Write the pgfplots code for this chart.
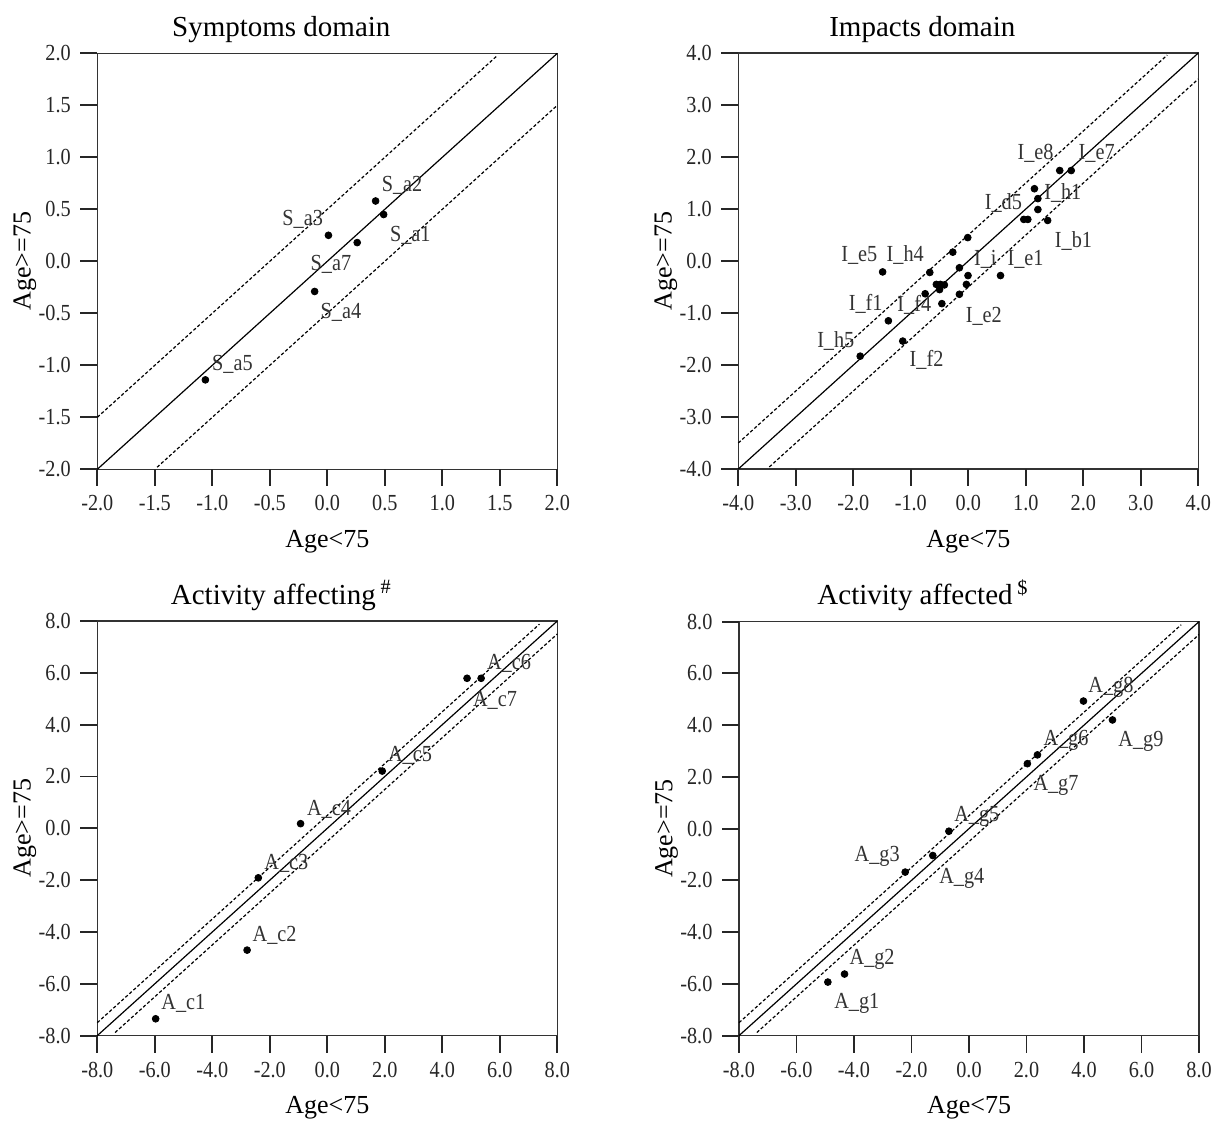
\documentclass[border=0pt]{standalone}
\usepackage{pgfplots}
\pgfplotsset{compat=1.18}
\usepackage{fontspec}
\setmainfont{Liberation Serif}
\newfontfamily\tickfont[FakeStretch=0.88]{Liberation Serif}
\pgfplotsset{
  panel/.style={
    scale only axis, width=230pt, height=208pt,
    axis line style={black!80, line width=0.6pt},
    ticklabel style={font=\tickfont\fontsize{11.5}{13}\selectfont, text=black!85},
    yticklabel style={xshift=-5.5pt},
    xticklabel style={yshift=-5.25pt},
    xlabel style={font=\fontsize{13}{15}\selectfont, at={(axis description cs:0.5,-0.1875)}, anchor=base},
    ylabel style={font=\fontsize{13}{15}\selectfont, at={(axis description cs:-0.145,0.5)}, anchor=base},
    title style={font=\fontsize{14.5}{16}\selectfont, at={(axis description cs:0.4,1)}, anchor=base, yshift=2.5pt},
    xlabel={Age<75}, ylabel={Age>=75},
    clip=false,
  },
  diag/.style={black, line width=0.6pt},
  dsh/.style={black, line width=0.6pt, dash pattern=on 1.6pt off 1.1pt},
  pts/.style={only marks, mark=*, mark size=1.7pt, black},
}
\tikzset{lbl/.style={font=\tickfont\fontsize{11.5}{13}\selectfont, text=black!80, anchor=base west, inner sep=0pt},
  tk/.style={draw=black!85, line width=0.9pt}}
\begin{document}
\begin{tikzpicture}
\useasboundingbox (0,0) rectangle (614.5pt,-560pt);
% ---------------- Symptoms domain
\begin{axis}[panel, at={(48.65pt,-26.65pt)}, anchor=north west,
  tick align=outside, tickpos=left, tick style={draw=none},
  title={Symptoms domain},
  xmin=-2, xmax=2, ymin=-2, ymax=2,
  xtick={-2,-1.5,-1,-0.5,0,0.5,1,1.5,2},
  xticklabels={-2.0,-1.5,-1.0,-0.5,0.0,0.5,1.0,1.5,2.0},
  ytick={-2,-1.5,-1,-0.5,0,0.5,1,1.5,2},
  yticklabels={-2.0,-1.5,-1.0,-0.5,0.0,0.5,1.0,1.5,2.0}]
\pgfplotsinvokeforeach{-2,-1.5,-1,-0.5,0,0.5,1,1.5,2}{
  \draw[tk] (axis cs:#1,-2) -- ++(0pt,-8.5pt);
  \draw[tk] (axis cs:-2,#1) -- ++(-8.5pt,0pt);
}
\addplot[diag] coordinates {(-2,-2) (2,2)};
\addplot[dsh] coordinates {(-2,-1.5) (1.48,1.98)};
\addplot[dsh] coordinates {(-1.48,-1.98) (2,1.5)};
\addplot[pts] coordinates {(0.42,0.58) (0.49,0.45) (0.01,0.25) (0.26,0.18) (-0.11,-0.29) (-1.06,-1.14)};
\node[lbl] at (axis cs:0.470,0.669) {S\_a2};
\node[lbl] at (axis cs:-0.394,0.349) {S\_a3};
\node[lbl] at (axis cs:0.542,0.188) {S\_a1};
\node[lbl] at (axis cs:-0.148,-0.090) {S\_a7};
\node[lbl] at (axis cs:-0.061,-0.548) {S\_a4};
\node[lbl] at (axis cs:-1.004,-1.052) {S\_a5};
\end{axis}
% ---------------- Impacts domain
\begin{axis}[panel, at={(369.15pt,-26.5pt)}, anchor=north west,
  tick align=outside, tickpos=left, tick style={draw=none},
  title={Impacts domain},
  xmin=-4, xmax=4, ymin=-4, ymax=4,
  xtick={-4,-3,-2,-1,0,1,2,3,4},
  xticklabels={-4.0,-3.0,-2.0,-1.0,0.0,1.0,2.0,3.0,4.0},
  ytick={-4,-3,-2,-1,0,1,2,3,4},
  yticklabels={-4.0,-3.0,-2.0,-1.0,0.0,1.0,2.0,3.0,4.0}]
\pgfplotsinvokeforeach{-4,-3,-2,-1,0,1,2,3,4}{
  \draw[tk] (axis cs:#1,-4) -- ++(0pt,-8.5pt);
  \draw[tk] (axis cs:-4,#1) -- ++(-8.5pt,0pt);
}
\addplot[diag] coordinates {(-4,-4) (4,4)};
\addplot[dsh] coordinates {(-4,-3.5) (3.46,3.96)};
\addplot[dsh] coordinates {(-3.46,-3.96) (4,3.5)};
\addplot[pts] coordinates {(1.59,1.74) (1.79,1.74) (1.15,1.39) (1.21,1.20) (1.21,0.99)
 (0.965,0.80) (1.035,0.80) (1.38,0.78) (-0.01,0.45) (-0.27,0.17) (-1.49,-0.21)
 (-0.67,-0.22) (-0.155,-0.13) (-0.005,-0.28) (0.56,-0.28) (-0.556,-0.45) (-0.486,-0.45)
 (-0.416,-0.46) (-0.50,-0.55) (-0.033,-0.45) (-0.75,-0.63) (-0.155,-0.64) (-0.46,-0.82)
 (-1.39,-1.15) (-1.14,-1.54) (-1.88,-1.83)};
\node[lbl] at (axis cs:0.850,1.95) {I\_e8};
\node[lbl] at (axis cs:1.913,1.95) {I\_e7};
\node[lbl] at (axis cs:0.280,0.988) {I\_d5};
\node[lbl] at (axis cs:1.314,1.187) {I\_h1};
\node[lbl] at (axis cs:1.500,0.258) {I\_b1};
\node[lbl] at (axis cs:-2.216,-0.019) {I\_e5};
\node[lbl] at (axis cs:-1.427,-0.019) {I\_h4};
\node[lbl] at (axis cs:0.094,-0.096) {I\_i};
\node[lbl] at (axis cs:0.676,-0.096) {I\_e1};
\node[lbl] at (axis cs:-2.084,-0.948) {I\_f1};
\node[lbl] at (axis cs:-1.240,-0.98) {I\_f4};
\node[lbl] at (axis cs:-0.051,-1.173) {I\_e2};
\node[lbl] at (axis cs:-2.634,-1.654) {I\_h5};
\node[lbl] at (axis cs:-1.026,-2.038) {I\_f2};
\end{axis}
% ---------------- Activity affecting
\begin{axis}[panel, at={(48.65pt,-310.5pt)}, anchor=north west, height=207.3pt,
  tick align=outside, tickpos=left, tick style={draw=none},
  title={Activity affecting\,\textsuperscript{\#}},
  xmin=-8, xmax=8, ymin=-8, ymax=8,
  xtick={-8,-6,-4,-2,0,2,4,6,8},
  xticklabels={-8.0,-6.0,-4.0,-2.0,0.0,2.0,4.0,6.0,8.0},
  ytick={-8,-6,-4,-2,0,2,4,6,8},
  yticklabels={-8.0,-6.0,-4.0,-2.0,0.0,2.0,4.0,6.0,8.0}]
\pgfplotsinvokeforeach{-8,-6,-4,-2,0,2,4,6,8}{
  \draw[tk] (axis cs:#1,-8) -- ++(0pt,-8.5pt);
  \draw[tk] (axis cs:-8,#1) -- ++(-8.5pt,0pt);
}
\addplot[diag] coordinates {(-8,-8) (8,8)};
\addplot[dsh] coordinates {(-8,-7.5) (7.38,7.88)};
\addplot[dsh] coordinates {(-7.38,-7.88) (8,7.5)};
\addplot[pts] coordinates {(5.35,5.79) (4.86,5.79) (1.91,2.21) (-0.93,0.18) (-2.40,-1.91) (-2.79,-4.70) (-5.97,-7.35)};
\node[lbl] at (axis cs:5.544,6.14) {A\_c6};
\node[lbl] at (axis cs:5.057,4.72) {A\_c7};
\node[lbl] at (axis cs:2.10,2.57) {A\_c5};
\node[lbl] at (axis cs:-0.717,0.51) {A\_c4};
\node[lbl] at (axis cs:-2.202,-1.58) {A\_c3};
\node[lbl] at (axis cs:-2.609,-4.35) {A\_c2};
\node[lbl] at (axis cs:-5.784,-6.99) {A\_c1};
\end{axis}
% ---------------- Activity affected
\begin{axis}[panel, at={(369.5pt,-310.8pt)}, anchor=north west, height=207pt,
  tick align=outside, tickpos=left, tick style={draw=none},
  title={Activity affected\,\textsuperscript{\$}},
  xmin=-8, xmax=8, ymin=-8, ymax=8,
  xtick={-8,-6,-4,-2,0,2,4,6,8},
  xticklabels={-8.0,-6.0,-4.0,-2.0,0.0,2.0,4.0,6.0,8.0},
  ytick={-8,-6,-4,-2,0,2,4,6,8},
  yticklabels={-8.0,-6.0,-4.0,-2.0,0.0,2.0,4.0,6.0,8.0}]
\pgfplotsinvokeforeach{-8,-6,-4,-2,0,2,4,6,8}{
  \draw[tk] (axis cs:#1,-8) -- ++(0pt,-8.5pt);
  \draw[tk] (axis cs:-8,#1) -- ++(-8.5pt,0pt);
}
\addplot[diag] coordinates {(-8,-8) (8,8)};
\addplot[dsh] coordinates {(-8,-7.5) (7.38,7.88)};
\addplot[dsh] coordinates {(-7.38,-7.88) (8,7.5)};
\addplot[pts] coordinates {(3.98,4.93) (4.99,4.20) (2.38,2.85) (2.03,2.51) (-0.70,-0.10) (-1.26,-1.04) (-2.22,-1.68) (-4.33,-5.62) (-4.91,-5.93)};
\node[lbl] at (axis cs:4.141,5.28) {A\_g8};
\node[lbl] at (axis cs:5.184,3.17) {A\_g9};
\node[lbl] at (axis cs:2.577,3.20) {A\_g6};
\node[lbl] at (axis cs:2.229,1.49) {A\_g7};
\node[lbl] at (axis cs:-0.527,0.27) {A\_g5};
\node[lbl] at (axis cs:-3.992,-1.27) {A\_g3};
\node[lbl] at (axis cs:-1.048,-2.11) {A\_g4};
\node[lbl] at (axis cs:-4.166,-5.24) {A\_g2};
\node[lbl] at (axis cs:-4.698,-6.97) {A\_g1};
\end{axis}
\end{tikzpicture}
\end{document}
